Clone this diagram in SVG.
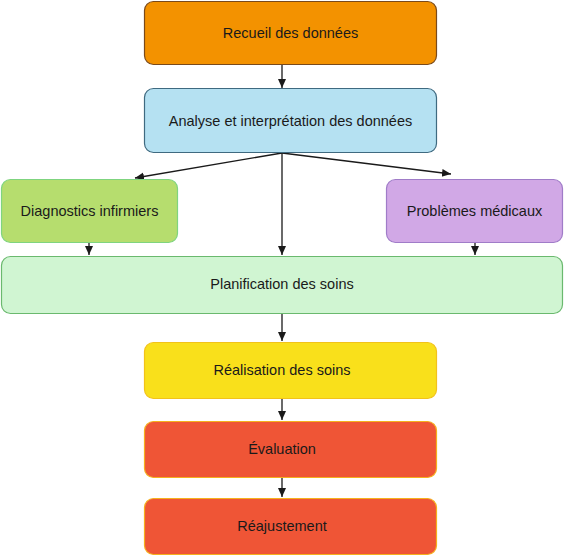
<svg xmlns="http://www.w3.org/2000/svg" width="565" height="556" viewBox="0 0 565 556">
<style>
text{font-family:"Liberation Sans",Arial,sans-serif;font-size:14.5px;fill:#1a1a1a;text-anchor:middle}
.c{stroke:#1a1a1a;stroke-width:1.3;fill:none;marker-end:url(#ah)}
rect{stroke-width:1.2}
</style>
<defs>
<marker id="ah" markerWidth="10" markerHeight="10" refX="9" refY="5" orient="auto" markerUnits="userSpaceOnUse">
<path d="M0,1 L9,5 L0,9 Z" fill="#1a1a1a"/>
</marker>
</defs>
<rect width="565" height="556" fill="#ffffff" stroke="none"/>
<g id="connectors">
<line class="c" x1="282" y1="65" x2="282" y2="88"/>
<line class="c" x1="282" y1="153" x2="135" y2="178"/>
<line class="c" x1="282" y1="153" x2="451" y2="174"/>
<line class="c" x1="282" y1="153" x2="282" y2="255"/>
<line class="c" x1="89" y1="243" x2="89" y2="255"/>
<line class="c" x1="475" y1="243" x2="475" y2="255"/>
<line class="c" x1="282" y1="314" x2="282" y2="341"/>
<line class="c" x1="282" y1="399" x2="282" y2="420"/>
<line class="c" x1="282" y1="478" x2="282" y2="497"/>
</g>
<g id="recueil">
<rect x="144.5" y="1.5" width="292" height="63" rx="9" fill="#F39200" stroke="#7a4a1a"/>
<text x="290.5" y="38">Recueil des données</text>
</g>
<g id="analyse">
<rect x="144.5" y="88.5" width="292" height="64" rx="9" fill="#B5E1F2" stroke="#3f6a80"/>
<text x="290.5" y="126">Analyse et interprétation des données</text>
</g>
<g id="diagnostics">
<rect x="1.5" y="179.5" width="176" height="63" rx="9" fill="#B6DD6E" stroke="#7fd47f"/>
<text x="89.5" y="216">Diagnostics infirmiers</text>
</g>
<g id="problemes">
<rect x="386.5" y="179.5" width="176" height="63" rx="9" fill="#D1A8E6" stroke="#a07cc8"/>
<text x="474.5" y="216">Problèmes médicaux</text>
</g>
<g id="planification">
<rect x="1.5" y="256.5" width="561" height="57" rx="9" fill="#D0F5D2" stroke="#6ab96e"/>
<text x="282" y="289">Planification des soins</text>
</g>
<g id="realisation">
<rect x="144.5" y="342.5" width="292" height="56" rx="9" fill="#F9E01B" stroke="#f2c21a"/>
<text x="282" y="375">Réalisation des soins</text>
</g>
<g id="evaluation">
<rect x="144.5" y="421.5" width="292" height="56" rx="9" fill="#EF5536" stroke="#f5b01e"/>
<text x="282" y="454">Évaluation</text>
</g>
<g id="reajustement">
<rect x="144.5" y="498.5" width="292" height="56" rx="9" fill="#EF5536" stroke="#f5b01e"/>
<text x="282" y="531">Réajustement</text>
</g>
</svg>
